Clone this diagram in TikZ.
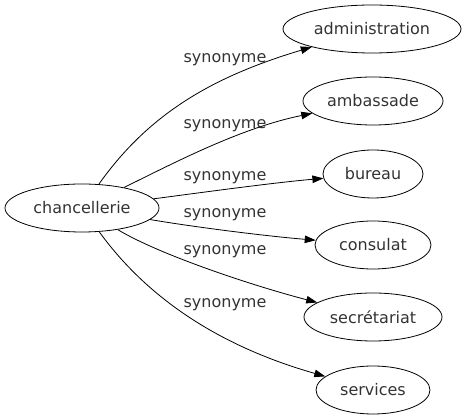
\documentclass[tikz,border=0pt]{standalone}
\usepackage{fontspec}
\setmainfont{DejaVu Sans}
\usetikzlibrary{shapes.geometric,arrows.meta}
\definecolor{txt}{HTML}{333333}
\tikzset{
  term/.style={draw, ellipse, inner sep=0pt, minimum height=48pt, line width=0.8pt, text=txt, font=\fontsize{16}{19}\selectfont},
  lbl/.style={inner sep=0pt, text=txt, font=\fontsize{16}{19}\selectfont},
  syn/.style={draw, line width=0.8pt, -{Triangle[length=11pt,width=7.5pt]}}
}
\begin{document}
\begin{tikzpicture}[x=1pt,y=-1pt]
\useasboundingbox (0,0) rectangle (467,419);
\node[term, minimum width=154pt] (ch) at (82,208) {chancellerie};
\node[term, minimum width=178pt] (adm) at (372,29) {administration};
\node[term, minimum width=140pt] (amb) at (373,101) {ambassade};
\node[term, minimum width=100pt] (bur) at (373,174) {bureau};
\node[term, minimum width=116pt] (con) at (373,245) {consulat};
\node[term, minimum width=138pt] (sec) at (373,317) {secrétariat};
\node[term, minimum width=114pt] (ser) at (373,390) {services};
\node[lbl] (l1) at (225,60) {synonyme};
\node[lbl] (l2) at (225,126) {synonyme};
\node[lbl] (l3) at (225,178) {synonyme};
\node[lbl] (l4) at (225,215) {synonyme};
\node[lbl] (l5) at (225,252) {synonyme};
\node[lbl] (l6) at (225,305) {synonyme};
\draw[syn] (ch) .. controls (150,112) and (215,76) .. (adm);
\draw[syn] (ch) .. controls (172,164) and (240,128) .. (amb);
\draw[syn] (ch) .. controls (191,194) and (270,183) .. (bur);
\draw[syn] (ch) .. controls (194,227) and (265,236) .. (con);
\draw[syn] (ch) .. controls (158,254) and (250,285) .. (sec);
\draw[syn] (ch) .. controls (145,295) and (215,345) .. (ser);
\end{tikzpicture}
\end{document}
